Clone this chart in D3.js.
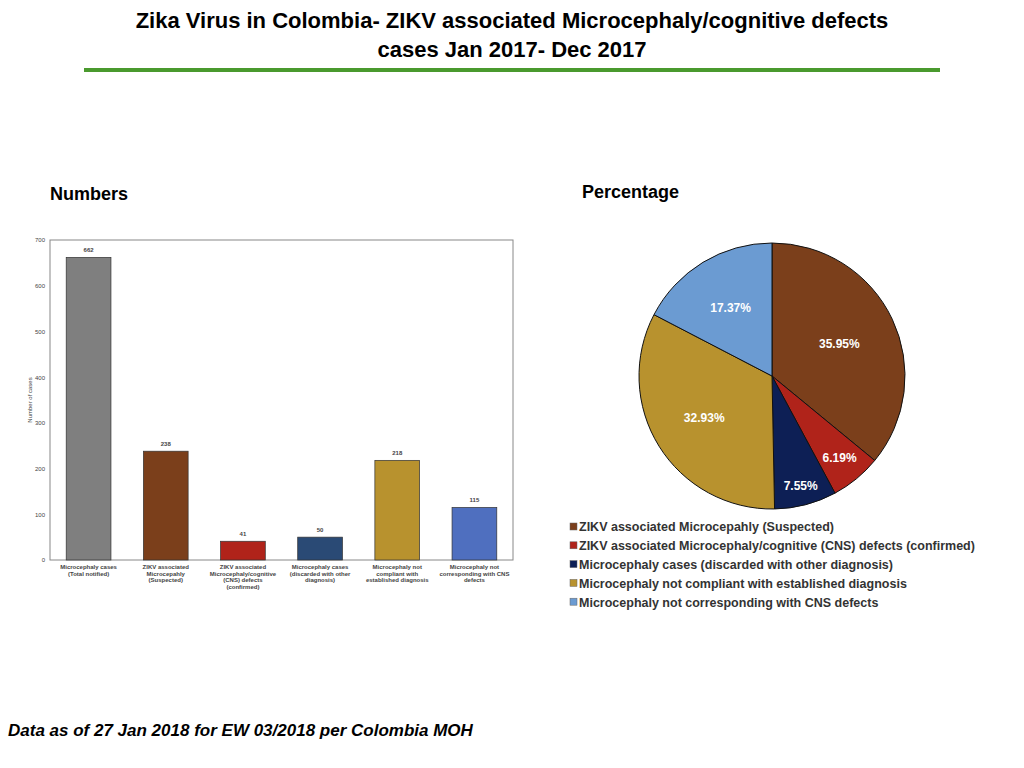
<!DOCTYPE html>
<html><head><meta charset="utf-8">
<script src="https://cdn.jsdelivr.net/npm/d3@7"></script>
<style>body{margin:0;background:#fff;font-family:"Liberation Sans",Arial,sans-serif}</style>
</head><body><svg id="c" width="1024" height="768"></svg>
<script>
const barCategories=["Microcephaly cases (Total notified)","ZIKV associated Microcepahly (Suspected)","ZIKV associated Microcephaly/cognitive (CNS) defects (confirmed)","Microcephaly cases (discarded with other diagnosis)","Microcephaly not compliant with established diagnosis","Microcephaly not corresponding with CNS defects"];
const barLabelLines=[["Microcephaly cases","(Total notified)"],["ZIKV associated","Microcepahly","(Suspected)"],["ZIKV associated","Microcephaly/cognitive","(CNS) defects","(confirmed)"],["Microcephaly cases","(discarded with other","diagnosis)"],["Microcephaly not","compliant with","established diagnosis"],["Microcephaly not","corresponding with CNS","defects"]];
const barValues=[662,238,41,50,218,115];
const barColors=["#7f7f7f","#7b3f1b","#b0231a","#2a4a75","#b8922e","#4f6fbf"];
const yTicks=[0,100,200,300,400,500,600,700];
const pieLabels=["ZIKV associated Microcepahly (Suspected)","ZIKV associated Microcephaly/cognitive (CNS) defects (confirmed)","Microcephaly cases (discarded with other diagnosis)","Microcephaly not compliant with established diagnosis","Microcephaly not corresponding with CNS defects"];
const pieValues=[35.95,6.19,7.55,32.93,17.37];
const pieColors=["#7b3f1b","#b0231a","#0d1f55","#b8922e","#6b9bd2"];

const svg=d3.select("#c");
svg.append("text").attr("x",512).attr("y",28).attr("text-anchor","middle").attr("font-size",22).attr("font-weight","bold").text("Zika Virus in Colombia- ZIKV associated Microcephaly/cognitive defects");
svg.append("text").attr("x",512).attr("y",57).attr("text-anchor","middle").attr("font-size",22).attr("font-weight","bold").text("cases Jan 2017- Dec 2017");
svg.append("rect").attr("x",84).attr("y",68).attr("width",856).attr("height",4).attr("fill","#4a9a2e");
svg.append("text").attr("x",50).attr("y",200).attr("font-size",18).attr("font-weight","bold").text("Numbers");
svg.append("text").attr("x",582).attr("y",198).attr("font-size",18).attr("font-weight","bold").text("Percentage");
svg.append("text").attr("x",8).attr("y",736).attr("font-size",17).attr("font-weight","bold").attr("font-style","italic").text("Data as of 27 Jan 2018 for EW 03/2018 per Colombia MOH");

// bar chart
const L=50,R=513,T=240,B=560;
const x=d3.scaleBand().domain(barCategories).range([L,R]).paddingInner(0.42).paddingOuter(0.21);
const y=d3.scaleLinear().domain([0,700]).range([B,T]);
const g=svg.append("g");
g.append("rect").attr("x",L).attr("y",T).attr("width",R-L).attr("height",B-T).attr("fill","none").attr("stroke","#888");
const ya=g.append("g").attr("transform",`translate(${L},0)`).call(d3.axisLeft(y).tickValues(yTicks).tickSize(0).tickPadding(5));
ya.select(".domain").remove();ya.selectAll("text").attr("font-size",6).attr("fill","#444");
g.append("text").attr("transform","translate(32,400) rotate(-90)").attr("text-anchor","middle").attr("font-size",6).attr("fill","#444").text("Number of cases");
g.selectAll(".bar").data(barValues).join("rect").attr("x",(d,i)=>x(barCategories[i])).attr("y",d=>y(d)).attr("width",x.bandwidth()).attr("height",d=>B-y(d)).attr("fill",(d,i)=>barColors[i]).attr("stroke","#333").attr("stroke-width",0.7);
g.selectAll(".vl").data(barValues).join("text").attr("x",(d,i)=>x(barCategories[i])+x.bandwidth()/2).attr("y",d=>y(d)-5).attr("text-anchor","middle").attr("font-size",6).attr("font-weight","bold").attr("fill","#444").text(d=>d);
barLabelLines.forEach((lines,i)=>{const t=g.append("text").attr("text-anchor","middle").attr("font-size",6).attr("font-weight","bold").attr("fill","#444");
 lines.forEach((l,j)=>t.append("tspan").attr("x",x(barCategories[i])+x.bandwidth()/2).attr("y",569+j*6.5).text(l));});

// pie
const cx=772,cy=376,r=133;
const pie=d3.pie().sort(null).value(d=>d)(pieValues);
const arc=d3.arc().innerRadius(0).outerRadius(r);
const pg=svg.append("g").attr("transform",`translate(${cx},${cy})`);
pg.selectAll("path").data(pie).join("path").attr("d",arc).attr("fill",(d,i)=>pieColors[i]).attr("stroke","#111").attr("stroke-width",1);
const lr=[0.56,0.8,0.85,0.6,0.6];
pg.selectAll(".pl").data(pie).join("text").attr("transform",(d,i)=>{const a=d3.arc().innerRadius(r*lr[i]).outerRadius(r*lr[i]);return `translate(${a.centroid(d)})`;})
 .attr("text-anchor","middle").attr("dy","0.35em").attr("font-size",12).attr("font-weight","bold").attr("fill","#fff").text(d=>d.data.toFixed(2)+"%");
const lg=svg.append("g");
pieLabels.forEach((l,i)=>{const yy=527+i*18.8;
 lg.append("rect").attr("x",570).attr("y",yy-4).attr("width",7).attr("height",7).attr("fill",pieColors[i]).attr("stroke","#666").attr("stroke-width",0.5);
 lg.append("text").attr("x",579).attr("y",yy).attr("dy","0.35em").attr("font-size",12.5).attr("font-weight","bold").attr("fill","#333").text(l);});
</script></body></html>
